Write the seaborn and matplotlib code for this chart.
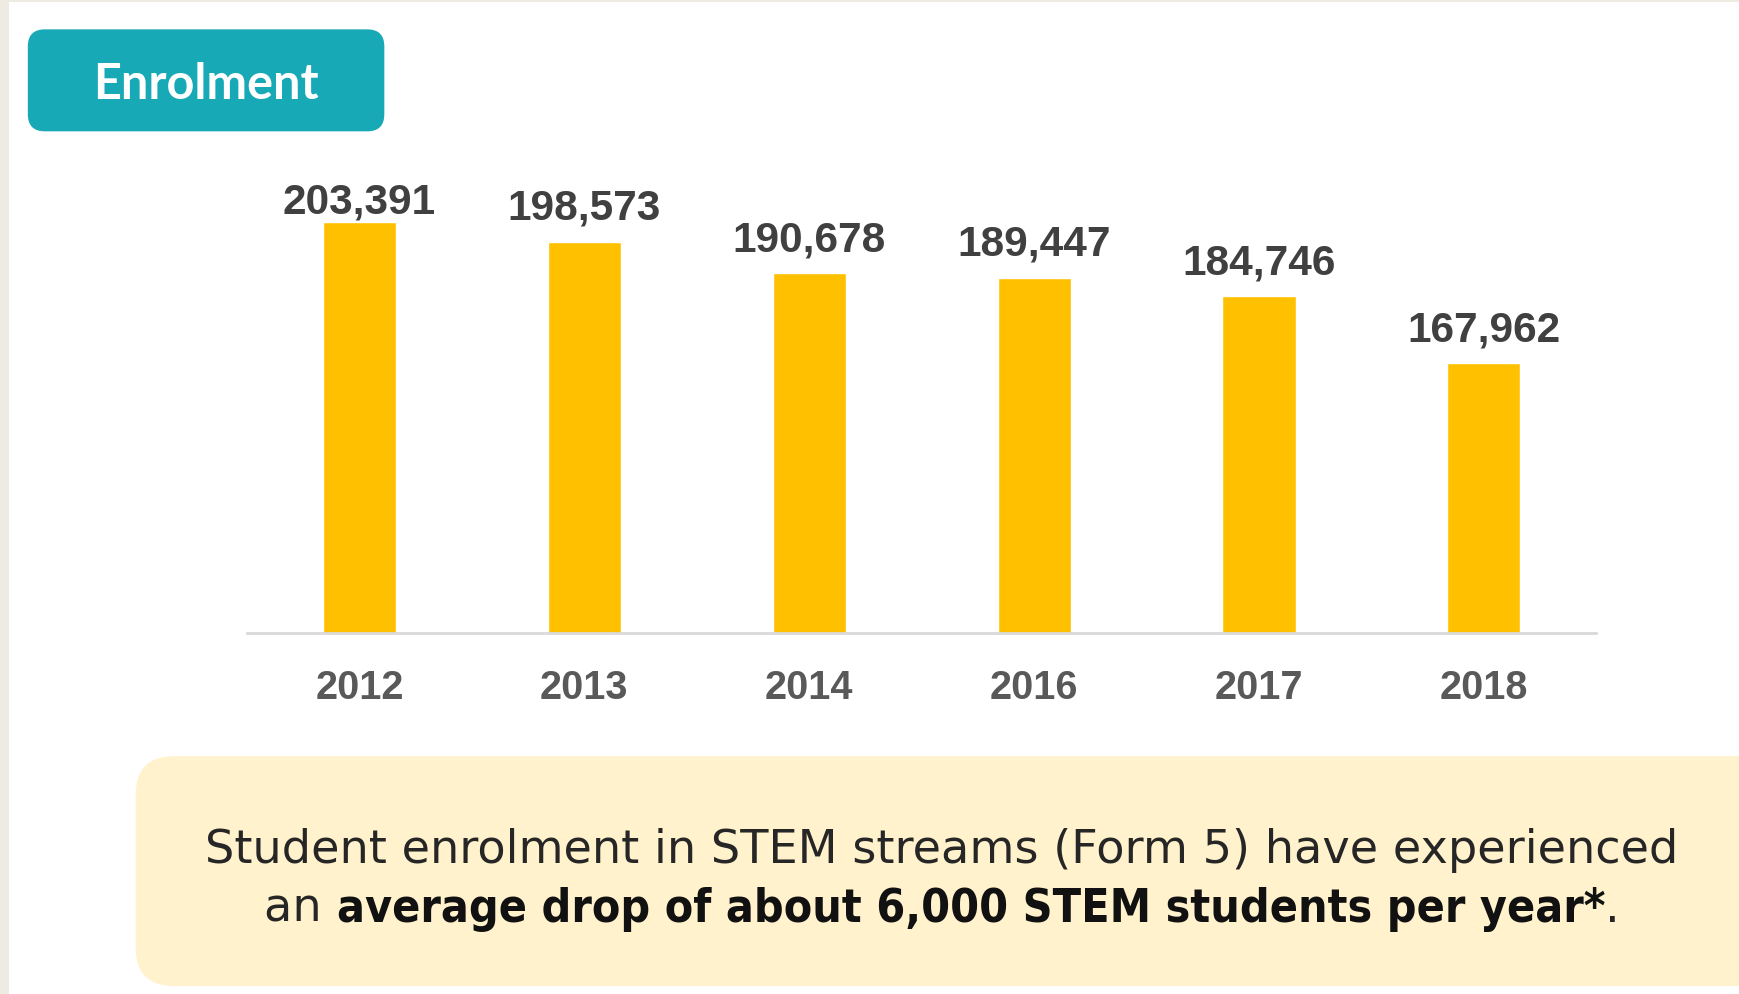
import matplotlib.pyplot as plt
import seaborn as sns
from matplotlib.patches import FancyBboxPatch, Rectangle

# Data
years = ['2012', '2013', '2014', '2016', '2017', '2018']
enrolment = [203391, 198573, 190678, 189447, 184746, 167962]

title = 'Enrolment'
note_line1 = 'Student enrolment in STEM streams (Form 5) have experienced'
note_pre = 'an '
note_bold = 'average drop of about 6,000 STEM students per year*'
note_post = '.'

sns.set_theme(style='white')
plt.rcParams['font.family'] = ['DejaVu Sans']

fig = plt.figure(figsize=(17.39, 9.95), dpi=100)
fig.patch.set_facecolor('white')

# light frame on left / top
fig.patches.append(Rectangle((0, 0), 0.0052, 1, transform=fig.transFigure,
                             facecolor='#eeebe3', edgecolor='none', zorder=0))
fig.patches.append(Rectangle((0, 0.9967), 1, 0.0033, transform=fig.transFigure,
                             facecolor='#eeebe3', edgecolor='none', zorder=0))

aspect = 1739 / 995

# title badge
fig.patches.append(FancyBboxPatch((0.016, 0.867), 0.205, 0.1025,
                                  boxstyle='round,pad=0,rounding_size=0.0098',
                                  mutation_aspect=aspect,
                                  transform=fig.transFigure,
                                  facecolor='#17a9b5', edgecolor='none'))
fig.text(0.1183, 0.915, title, color='white', fontsize=35, fontweight='bold',
         family=['Lato', 'DejaVu Sans'], ha='center', va='center')

# bar chart
ax = fig.add_axes([0.142, 0.363, 0.776, 0.4986])
sns.barplot(x=years, y=enrolment, color='#ffc000', saturation=1, width=0.325, ax=ax)
ax.set_ylim(100000, 225000)
ax.set_xlim(-0.5, 5.5)
ax.set_yticks([])
ax.set_ylabel('')
ax.set_xlabel('')
for s in ['left', 'right', 'top']:
    ax.spines[s].set_visible(False)
ax.spines['bottom'].set_color('#d9d9d9')
ax.spines['bottom'].set_linewidth(2)
ax.tick_params(axis='x', length=0, pad=25)
for lbl in ax.get_xticklabels():
    lbl.set_fontsize(28.5)
    lbl.set_fontweight('bold')
    lbl.set_color('#595959')
    lbl.set_family(['Liberation Sans', 'DejaVu Sans'])

anns = ax.bar_label(ax.containers[0], labels=[f'{v:,}' for v in enrolment], padding=10,
                    fontsize=30.5, fontweight='bold', color='#404040',
                    family=['Liberation Sans', 'DejaVu Sans'])
# first label sits closer to its bar
anns[0].xyann = (0, 1)

# note box
fig.patches.append(FancyBboxPatch((0.078, 0.008), 0.95, 0.231,
                                  boxstyle='round,pad=0,rounding_size=0.022',
                                  mutation_aspect=aspect,
                                  transform=fig.transFigure,
                                  facecolor='#fff2cc', edgecolor='none'))

cx = 0.5417
fig.text(cx, 0.133, note_line1, fontsize=33.3, color='#262626', ha='center', va='baseline')

renderer = fig.canvas.get_renderer()
t1 = fig.text(0, 0.0735, note_pre, fontsize=33.3, color='#262626', va='baseline')
t2 = fig.text(0, 0.0735, note_bold, fontsize=33.3, fontweight='bold',
              fontstretch='condensed', color='#111111', va='baseline')
t3 = fig.text(0, 0.0735, note_post, fontsize=33.3, color='#262626', va='baseline')
fw = fig.bbox.width
w1 = t1.get_window_extent(renderer).width / fw
w2 = t2.get_window_extent(renderer).width / fw
w3 = t3.get_window_extent(renderer).width / fw
x0 = cx - (w1 + w2 + w3) / 2
t1.set_x(x0)
t2.set_x(x0 + w1)
t3.set_x(x0 + w1 + w2)

fig.savefig('out.png', dpi=100)
